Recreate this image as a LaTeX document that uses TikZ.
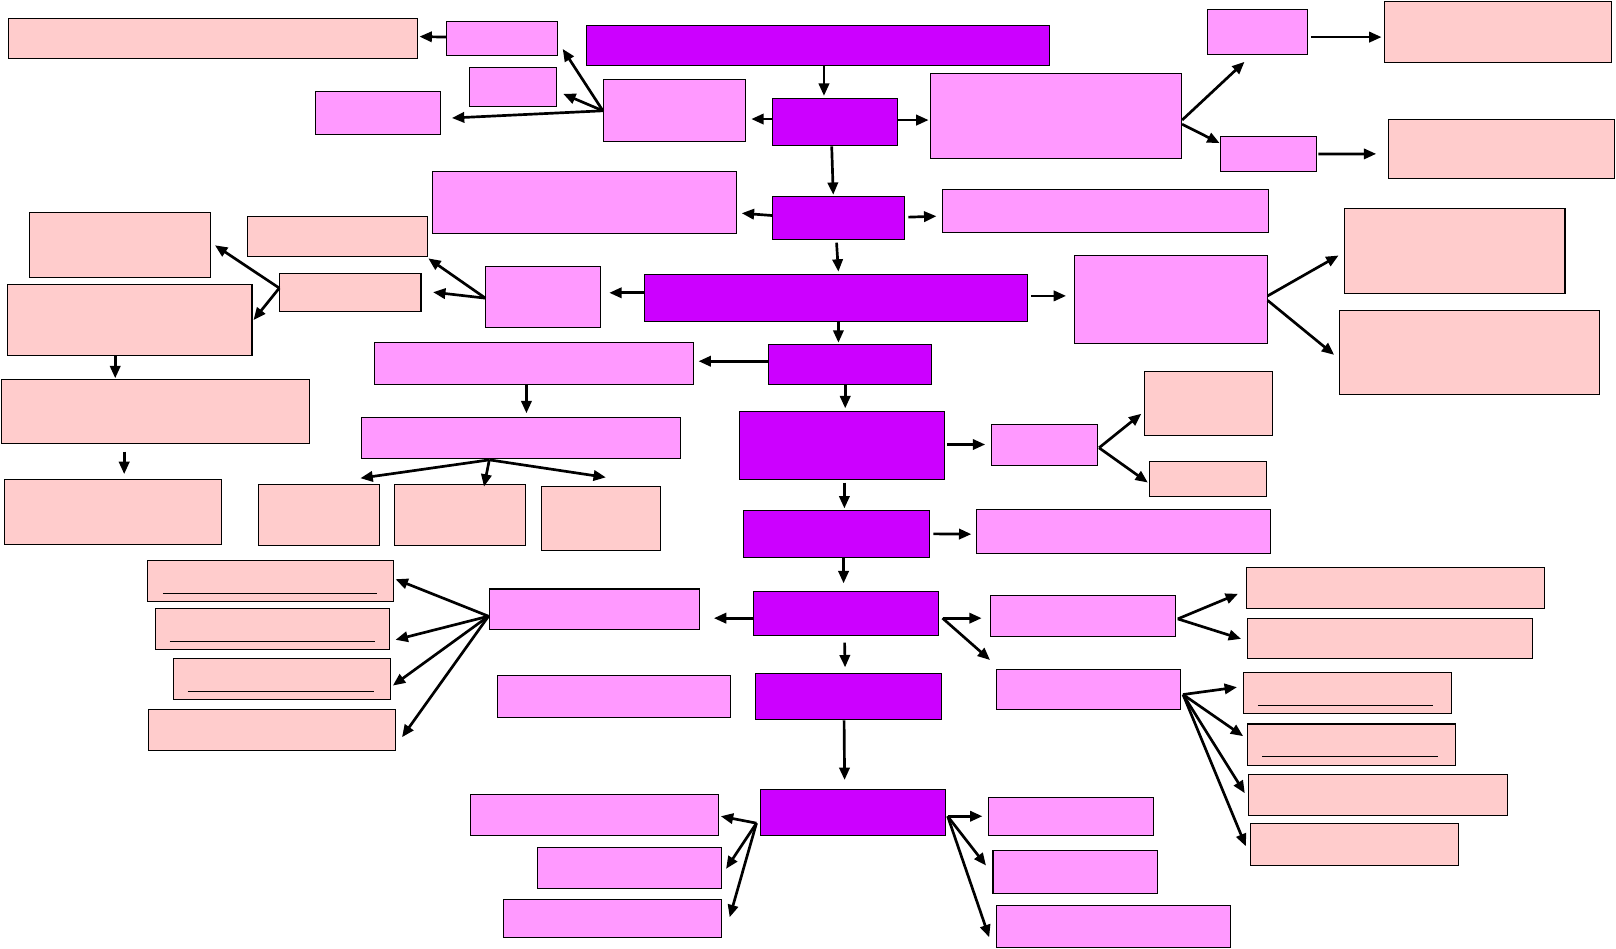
\documentclass[tikz,border=0pt]{standalone}
\usetikzlibrary{arrows.meta}
\definecolor{hubpurple}{RGB}{204,0,255}
\definecolor{subpink}{RGB}{255,153,255}
\definecolor{leafrose}{RGB}{255,204,204}
\begin{document}
\begin{tikzpicture}[x=1pt, y=-1pt,
    hub/.style={draw, line width=1pt, fill=hubpurple, anchor=north west, inner sep=0pt},
    sub/.style={draw, line width=1pt, fill=subpink, anchor=north west, inner sep=0pt},
    leaf/.style={draw, line width=1pt, fill=leafrose, anchor=north west, inner sep=0pt},
    sz/.style 2 args={minimum width=#1pt, minimum height=#2pt},
    arr/.style={line width=2.6pt, -{Triangle[length=12pt, width=10pt]}},
    uline/.style={line width=0.9pt}]
    \useasboundingbox (0,0) rectangle (1568,920);
    \node[hub, sz={449}{39}] (main) at (569,24) {};
    \node[hub, sz={121}{46}] (h2) at (749,95) {};
    \node[hub, sz={128}{42}] (h3) at (749,190) {};
    \node[hub, sz={371}{45}] (h4) at (625,266) {};
    \node[hub, sz={158}{39}] (h5) at (745,334) {};
    \node[hub, sz={199}{66}] (h6) at (717,399) {};
    \node[hub, sz={180}{45}] (h7) at (721,495) {};
    \node[hub, sz={179}{43}] (h8) at (731,573) {};
    \node[hub, sz={180}{45}] (h9) at (733,653) {};
    \node[hub, sz={180}{44}] (h10) at (737,766) {};
    \node[sub, sz={107}{33}] (s2a) at (433,20) {};
    \node[sub, sz={84}{38}] (s2b) at (455,65) {};
    \node[sub, sz={121}{42}] (s2c) at (306,88) {};
    \node[sub, sz={138}{60}] (s2w) at (585,77) {};
    \node[sub, sz={244}{82}] (s2e) at (902,71) {};
    \node[sub, sz={97}{43}] (s2f) at (1171,9) {};
    \node[sub, sz={93}{34}] (s2g) at (1184,132) {};
    \node[sub, sz={295}{60}] (s3w) at (419,166) {};
    \node[sub, sz={316}{42}] (s3e) at (914,183) {};
    \node[sub, sz={111}{59}] (s4w) at (471,258) {};
    \node[sub, sz={187}{86}] (s4e) at (1042,247) {};
    \node[sub, sz={309}{41}] (s5w) at (363,332) {};
    \node[sub, sz={310}{39}] (s5d) at (350,405) {};
    \node[sub, sz={102}{40}] (s6e) at (962,411) {};
    \node[sub, sz={285}{43}] (s7e) at (947,494) {};
    \node[sub, sz={204}{39}] (s8w) at (474,571) {};
    \node[sub, sz={179}{40}] (s8e) at (961,577) {};
    \node[sub, sz={179}{39}] (s8f) at (966,649) {};
    \node[sub, sz={226}{41}] (s9w) at (482,655) {};
    \node[sub, sz={241}{40}] (s10a) at (456,770) {};
    \node[sub, sz={179}{40}] (s10b) at (521,822) {};
    \node[sub, sz={212}{37}] (s10c) at (488,872) {};
    \node[sub, sz={160}{37}] (s10d) at (959,773) {};
    \node[sub, sz={160}{41}] (s10e) at (963,825) {};
    \node[sub, sz={227}{41}] (s10f) at (966,878) {};
    \node[leaf, sz={397}{39}] (l2a) at (8,17) {};
    \node[leaf, sz={220}{59}] (l2f) at (1343,1) {};
    \node[leaf, sz={219}{58}] (l2g) at (1347,115) {};
    \node[leaf, sz={176}{63}] (l4a) at (28,206) {};
    \node[leaf, sz={174}{38}] (l4b) at (240,210) {};
    \node[leaf, sz={137}{37}] (l4c) at (271,265) {};
    \node[leaf, sz={237}{68}] (l4d) at (7,276) {};
    \node[leaf, sz={299}{62}] (l4e) at (1,368) {};
    \node[leaf, sz={210}{63}] (l4f) at (4,465) {};
    \node[leaf, sz={214}{82}] (l4g) at (1304,202) {};
    \node[leaf, sz={252}{81}] (l4h) at (1299,301) {};
    \node[leaf, sz={118}{59}] (l5a) at (250,470) {};
    \node[leaf, sz={127}{59}] (l5b) at (382,470) {};
    \node[leaf, sz={115}{62}] (l5c) at (525,472) {};
    \node[leaf, sz={124}{62}] (l6a) at (1110,360) {};
    \node[leaf, sz={113}{34}] (l6b) at (1115,447) {};
    \node[leaf, sz={238}{40}] (l8a) at (143,543) {};
    \node[leaf, sz={227}{40}] (l8b) at (150,590) {};
    \node[leaf, sz={210}{40}] (l8c) at (168,638) {};
    \node[leaf, sz={239}{40}] (l8d) at (144,688) {};
    \node[leaf, sz={289}{40}] (l8e) at (1209,550) {};
    \node[leaf, sz={276}{38}] (l8f) at (1210,600) {};
    \node[leaf, sz={202}{40}] (l8g) at (1206,652) {};
    \node[leaf, sz={202}{40}] (l8h) at (1210,702) {};
    \node[leaf, sz={251}{40}] (l8i) at (1211,751) {};
    \node[leaf, sz={202}{40}] (l8j) at (1213,799) {};
    \draw[uline] ([xshift=15pt,yshift=8.6pt]l8a.south west) -- ([xshift=-16pt,yshift=8.6pt]l8a.south east);
    \draw[uline] ([xshift=14.5pt,yshift=9pt]l8b.south west) -- ([xshift=-14.3pt,yshift=9pt]l8b.south east);
    \draw[uline] ([xshift=14pt,yshift=8.2pt]l8c.south west) -- ([xshift=-15.7pt,yshift=8.2pt]l8c.south east);
    \draw[uline] ([xshift=14.5pt,yshift=8.6pt]l8g.south west) -- ([xshift=-19pt,yshift=8.6pt]l8g.south east);
    \draw[uline] ([xshift=14.6pt,yshift=9pt]l8h.south west) -- ([xshift=-18pt,yshift=9pt]l8h.south east);
    \draw[arr] ([xshift=5.5pt]main.south) -- ([xshift=-10.5pt,yshift=2pt]h2.north);
    \draw[arr] ([yshift=3pt]h2.west) -- ([xshift=5pt,yshift=-8pt]s2w.east);
    \draw[arr] ([yshift=2pt]h2.east) -- ([xshift=-1pt,yshift=-4pt]s2e.west);
    \draw[arr] ([xshift=-3pt]h2.south) -- ([xshift=-5pt,yshift=1pt]h3.north);
    \draw[arr] (s2w.west) -- ([xshift=5pt,yshift=6.5pt]s2a.south east);
    \draw[arr] (s2w.west) -- ([xshift=6.5pt,yshift=-6.6pt]s2b.east);
    \draw[arr] (s2w.west) -- ([xshift=10.5pt,yshift=-5pt]s2c.east);
    \draw[arr] ([yshift=1pt]s2a.west) -- ([xshift=1pt,yshift=1.5pt]l2a.east);
    \draw[arr] ([yshift=-4pt]s2e.east) -- ([xshift=-12.5pt,yshift=-7pt]s2f.south);
    \draw[arr] ([yshift=-8pt]s2e.east) -- ([xshift=-0.6pt,yshift=10.6pt]s2g.west);
    \draw[arr] ([xshift=3pt,yshift=-5pt]s2f.east) -- ([xshift=-2.5pt,yshift=-5pt]l2f.west);
    \draw[arr] ([xshift=1.3pt]s2g.east) -- ([xshift=-11.7pt,yshift=-4.8pt]l2g.west);
    \draw[arr] ([yshift=2.4pt]h3.west) -- ([xshift=4.7pt,yshift=-10.4pt]s3w.east);
    \draw[arr] ([xshift=3.3pt,yshift=0.8pt]h3.east) -- ([xshift=-5.4pt,yshift=-5.3pt]s3e.west);
    \draw[arr] ([xshift=-1.8pt,yshift=-2.5pt]h3.south) -- ([xshift=2.5pt,yshift=2.4pt]h4.north);
    \draw[arr] ([yshift=4.9pt]h4.west) -- ([xshift=8.2pt,yshift=3.9pt]s4w.east);
    \draw[arr] ([xshift=3.2pt,yshift=1.9pt]h4.east) -- ([xshift=-7.6pt,yshift=3.4pt]s4e.west);
    \draw[arr] ([xshift=2.5pt]h4.south) -- ([xshift=-11pt,yshift=1.5pt]h5.north);
    \draw[arr] ([yshift=-1.3pt]s4w.west) -- ([xshift=0.6pt,yshift=-1.7pt]l4b.south east);
    \draw[arr] ([yshift=-1.3pt]s4w.west) -- ([xshift=11.2pt,yshift=0.5pt]l4c.east);
    \draw[arr] ([yshift=4.5pt]l4c.west) -- ([xshift=3.6pt]l4a.east);
    \draw[arr] ([yshift=4.5pt]l4c.west) -- ([xshift=1pt]l4d.east);
    \draw[arr] ([yshift=3.4pt]s4e.east) -- ([xshift=-5.2pt,yshift=-4.4pt]l4g.west);
    \draw[arr] ([yshift=-1pt]s4e.east) -- ([xshift=-4.5pt,yshift=-2.3pt]l4h.west);
    \draw[arr] ([xshift=-14.2pt]l4d.south) -- ([xshift=-39.2pt,yshift=1pt]l4e.north);
    \draw[arr] ([xshift=-30.5pt,yshift=-7.3pt]l4e.south) -- ([xshift=11pt,yshift=5pt]l4f.north);
    \draw[arr] ([yshift=3.5pt]h5.west) -- ([xshift=4.8pt,yshift=2.5pt]s5w.east);
    \draw[arr] ([xshift=-7.2pt]s5w.south) -- ([xshift=5.3pt,yshift=4pt]s5d.north);
    \draw[arr] ([xshift=-4.4pt]h5.south) -- ([xshift=3.1pt,yshift=2.8pt]h6.north);
    \draw[arr] ([xshift=-30.7pt,yshift=-1.2pt]s5d.south) -- ([xshift=-19.3pt,yshift=6pt]l5a.north east);
    \draw[arr] ([xshift=-30.7pt,yshift=-1.2pt]s5d.south) -- ([xshift=23.6pt,yshift=-2.2pt]l5b.north);
    \draw[arr] ([xshift=-30.7pt,yshift=-1.2pt]s5d.south) -- ([xshift=4.9pt,yshift=8.8pt]l5c.north);
    \draw[arr] ([xshift=2pt,yshift=1.2pt]h6.east) -- ([xshift=-6.1pt,yshift=0.2pt]s6e.west);
    \draw[arr] ([xshift=1.4pt,yshift=-3pt]s6e.east) -- ([xshift=-2.6pt,yshift=-10pt]l6a.west);
    \draw[arr] ([xshift=1.4pt,yshift=-3pt]s6e.east) -- ([xshift=-1.3pt,yshift=-3.7pt]l6b.west);
    \draw[arr] ([xshift=2.3pt,yshift=-2.4pt]h6.south) -- ([xshift=7.8pt,yshift=1.7pt]h7.north);
    \draw[arr] ([xshift=3.6pt]h7.east) -- ([xshift=-4.5pt,yshift=-2.3pt]s7e.west);
    \draw[arr] ([xshift=7pt]h7.south) -- ([xshift=-2.5pt,yshift=7pt]h8.north);
    \draw[arr] ([yshift=-4.8pt]h8.west) -- ([xshift=13.7pt,yshift=-8.8pt]s8w.east);
    \draw[arr] ([xshift=3.5pt,yshift=-4.8pt]h8.east) -- ([xshift=-8.5pt,yshift=-2.3pt]s8e.west);
    \draw[arr] ([xshift=3.5pt,yshift=-4.8pt]h8.east) -- ([xshift=-5.4pt,yshift=8.6pt]s8f.north west);
    \draw[arr] ([xshift=-1.5pt,yshift=-6.6pt]h8.south) -- ([xshift=-3.5pt,yshift=5.5pt]h9.north);
    \draw[arr] ([yshift=-6.9pt]s8w.west) -- ([xshift=1.8pt,yshift=1.5pt]l8a.east);
    \draw[arr] ([yshift=-6.9pt]s8w.west) -- ([xshift=5.8pt,yshift=-10.3pt]l8b.east);
    \draw[arr] ([yshift=-6.9pt]s8w.west) -- ([xshift=2.2pt,yshift=-6.7pt]l8c.east);
    \draw[arr] ([yshift=-6.9pt]s8w.west) -- ([xshift=6.1pt,yshift=-6.8pt]l8d.east);
    \draw[arr] ([xshift=1.8pt,yshift=-3pt]s8e.east) -- ([xshift=-7.8pt,yshift=-5.7pt]l8e.west);
    \draw[arr] ([xshift=1.8pt,yshift=-3pt]s8e.east) -- ([xshift=-5.8pt,yshift=-0.4pt]l8f.west);
    \draw[arr] ([xshift=1.9pt,yshift=-4.9pt]s8f.east) -- ([xshift=-5.8pt,yshift=5.7pt]l8g.west);
    \draw[arr] ([xshift=1.9pt,yshift=-4.9pt]s8f.east) -- ([xshift=-3.8pt,yshift=8.2pt]l8h.west);
    \draw[arr] ([xshift=1.9pt,yshift=-4.9pt]s8f.east) -- ([xshift=-3.2pt,yshift=1.9pt]l8i.west);
    \draw[arr] ([xshift=1.9pt,yshift=-4.9pt]s8f.east) -- ([xshift=-4.2pt,yshift=-1.6pt]l8j.west);
    \draw[arr] ([xshift=-4.5pt]h9.south) -- ([xshift=-8pt,yshift=9.2pt]h10.north);
    \draw[arr] ([xshift=-3pt,yshift=-10.2pt]h10.west) -- ([xshift=1.4pt,yshift=-1.5pt]s10a.east);
    \draw[arr] ([xshift=-3pt,yshift=-10.2pt]h10.west) -- ([xshift=3.5pt,yshift=-0.5pt]s10b.east);
    \draw[arr] ([xshift=-3pt,yshift=-10.2pt]h10.west) -- ([xshift=7pt,yshift=1pt]s10c.east);
    \draw[arr] ([xshift=1.5pt,yshift=-3.5pt]h10.east) -- ([xshift=-5.8pt]s10d.west);
    \draw[arr] ([xshift=1.5pt,yshift=-3.5pt]h10.east) -- ([xshift=-6.3pt,yshift=6.2pt]s10e.west);
    \draw[arr] ([xshift=1.5pt,yshift=-3.5pt]h10.east) -- ([xshift=-6.2pt,yshift=-10.4pt]s10f.west);
\end{tikzpicture}
\end{document}
